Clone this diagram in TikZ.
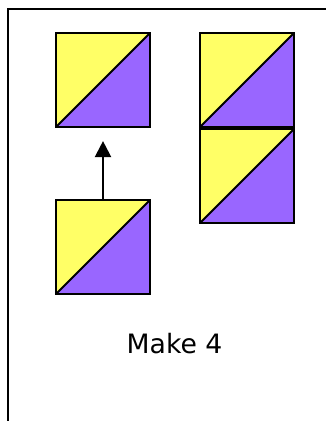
\documentclass[tikz,border=0pt]{standalone}
\usepackage{fontspec}
\setmainfont{DejaVu Sans}
\usepackage{tikz}
\usetikzlibrary{positioning,arrows.meta}
\definecolor{hYel}{RGB}{255,255,102}
\definecolor{hPur}{RGB}{153,102,255}
\tikzset{
  hst/.style={rectangle, draw=black, line width=1.6pt, minimum size=70.5pt,
              inner sep=0pt,
              path picture={
                \fill[hYel] (path picture bounding box.north west) --
                  (path picture bounding box.north east) --
                  (path picture bounding box.south west) -- cycle;
                \fill[hPur] (path picture bounding box.north east) --
                  (path picture bounding box.south east) --
                  (path picture bounding box.south west) -- cycle;
                \draw[line width=1.4pt] (path picture bounding box.south west) --
                  (path picture bounding box.north east);}},
  frm/.style={draw=black, line width=1.8pt},
  up/.style={-{Triangle[length=12pt,width=12pt]}, draw=black, line width=1.6pt},
  lbl/.style={font=\fontsize{20}{24}\selectfont, inner sep=0pt},
}
\begin{document}
\begin{tikzpicture}[x=0.75pt,y=-0.75pt]
  \useasboundingbox (0,0) rectangle (325,421);
  % frame (top and left edge only)
  \draw[frm] (8,430) -- (8,9) -- (335,9);

  \node[hst] (one) at (103,80) {};
  \node[hst] (two) at (247,80) {};
  \node[hst] (three) at (247,176) {};
  \node[hst] (four) at (103,247) {};

  \draw[up,shorten >=9.75pt] (four.north) -- (one.south);

  \node[lbl] (make) at (174.5,344) {Make 4};
\end{tikzpicture}
\end{document}
